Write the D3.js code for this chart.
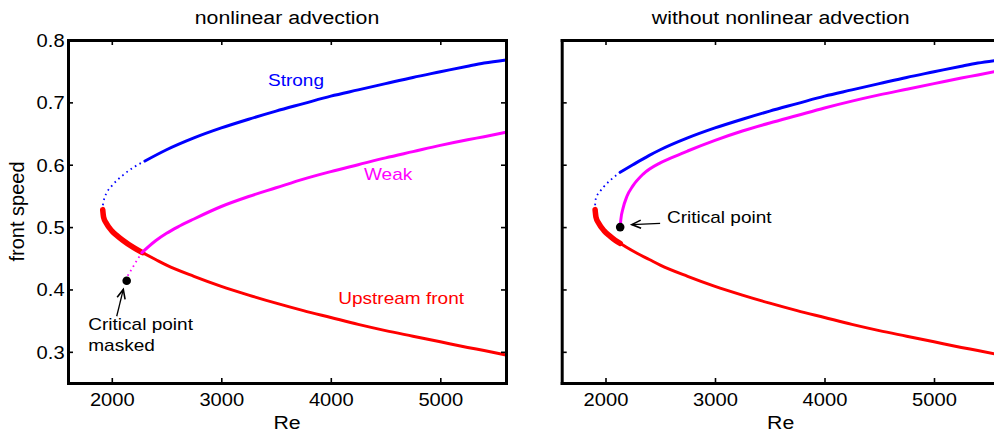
<!DOCTYPE html>
<html>
<head>
<meta charset="utf-8">
<script src="https://cdn.jsdelivr.net/npm/d3@7/dist/d3.min.js"></script>
<style>
  body { margin: 0; background: #fff; }
  text { font-family: "Liberation Sans", Arial, Helvetica, sans-serif; }
</style>
</head>
<body>
<svg id="chart" width="994" height="432"></svg>
<script>
// axis ticks
const xTicks = [2000, 3000, 4000, 5000];
const yTicks = [0.3, 0.4, 0.5, 0.6, 0.7, 0.8];
const titles = ['nonlinear advection', 'without nonlinear advection'];

// [Re, front speed]
// left panel: nonlinear advection
const leftStrongDotted = [[1918, 0.535], [1930, 0.545], [1950, 0.554], [2000, 0.566], [2100, 0.583],
  [2200, 0.596], [2303, 0.606]];
const leftStrong = [[2303, 0.606], [2500, 0.624], [2750, 0.643], [3000, 0.659], [3250, 0.673], [3500, 0.686],
  [3750, 0.698], [4000, 0.710], [4250, 0.720], [4500, 0.730], [4750, 0.740], [5000, 0.749], [5250, 0.758],
  [5400, 0.763], [5600, 0.768]];
const leftWeakDotted = [[2145, 0.422], [2180, 0.432], [2220, 0.444], [2275, 0.459]];
const leftWeak = [[2275, 0.459], [2400, 0.478], [2500, 0.490], [2600, 0.500], [2750, 0.513], [3000, 0.533],
  [3250, 0.549], [3500, 0.563], [3750, 0.577], [4000, 0.589], [4250, 0.600], [4500, 0.611], [4750, 0.621],
  [5000, 0.631], [5250, 0.640], [5400, 0.645], [5600, 0.652]];
const leftUpstreamThick = [[1917, 0.528], [1925, 0.516], [1950, 0.506], [2000, 0.494], [2050, 0.486],
  [2100, 0.479], [2200, 0.467], [2280, 0.459]];
const leftUpstream = [[2280, 0.459], [2400, 0.448], [2500, 0.439], [2750, 0.421], [3000, 0.405], [3250, 0.391],
  [3500, 0.378], [3750, 0.366], [4000, 0.355], [4250, 0.344], [4500, 0.334], [4750, 0.325], [5000, 0.316],
  [5250, 0.307], [5400, 0.302], [5600, 0.295]];
const leftCritical = [2136, 0.414];

// right panel: without nonlinear advection
const rightStrongDotted = [[1905, 0.535], [1912, 0.546], [1945, 0.556], [1981, 0.564], [2050, 0.576], [2134, 0.588]];
const rightStrong = [[2134, 0.588], [2250, 0.600], [2400, 0.615], [2500, 0.624], [2750, 0.643], [3000, 0.659],
  [3250, 0.673], [3500, 0.686], [3750, 0.698], [4000, 0.710], [4250, 0.720], [4500, 0.730], [4750, 0.740],
  [5000, 0.749], [5250, 0.758], [5400, 0.763], [5600, 0.768]];
const rightWeak = [[2134, 0.500], [2140, 0.512], [2160, 0.530], [2195, 0.549], [2250, 0.566], [2344, 0.585],
  [2500, 0.603], [2600, 0.611], [2750, 0.622], [3000, 0.639], [3250, 0.654], [3500, 0.667], [3750, 0.679],
  [4000, 0.691], [4250, 0.702], [4500, 0.712], [4750, 0.721], [5000, 0.730], [5250, 0.739], [5400, 0.744],
  [5600, 0.751]];
const rightUpstreamThick = [[1905, 0.528], [1913, 0.516], [1938, 0.506], [1988, 0.494], [2038, 0.486],
  [2088, 0.479], [2134, 0.474]];
const rightUpstream = [[2134, 0.474], [2188, 0.468], [2288, 0.458], [2400, 0.448], [2500, 0.439], [2750, 0.421],
  [3000, 0.405], [3250, 0.391], [3500, 0.378], [3750, 0.366], [4000, 0.355], [4250, 0.344], [4500, 0.334],
  [4750, 0.325], [5000, 0.316], [5250, 0.307], [5400, 0.302], [5600, 0.295]];
const rightCritical = [2134, 0.500];

const BLUE = '#0000ff';
const MAGENTA = '#ff00ff';
const RED = '#ff0000';
const SX = 1.12; // glyphs in the picture come out a bit wide

const svg = d3.select('#chart');

function addText(g, px, py, str, size, opts) {
  opts = opts || {};
  return g.append('text')
    .attr('transform', `translate(${px},${py}) scale(${SX},1)`)
    .attr('text-anchor', opts.anchor || 'start')
    .attr('fill', opts.fill || '#000')
    .style('font-size', size + 'px')
    .text(str);
}

function addArrow(g, x0, y0, x1, y1) {
  // tail (x0,y0) -> head (x1,y1)
  const a = Math.atan2(y1 - y0, x1 - x0);
  const len = 10;
  const spread = 0.42;
  g.append('line').attr('x1', x0).attr('y1', y0).attr('x2', x1).attr('y2', y1)
    .attr('stroke', '#000').attr('stroke-width', 1.3);
  g.append('path')
    .attr('d', `M${x1 - len * Math.cos(a - spread)},${y1 - len * Math.sin(a - spread)}` +
      `L${x1},${y1}L${x1 - len * Math.cos(a + spread)},${y1 - len * Math.sin(a + spread)}`)
    .attr('fill', 'none').attr('stroke', '#000').attr('stroke-width', 1.6);
}

function panel(left, idx, series) {
  const x = d3.scaleLinear().domain([1600, 5600]).range([left, left + 438]);
  const y = d3.scaleLinear().domain([0.25, 0.8]).range([383, 40]);
  const g = svg.append('g');
  const line = d3.line().x((d) => x(d[0])).y((d) => y(d[1])).curve(d3.curveMonotoneX);

  // curves
  series.forEach((s) => {
    const p = g.append('path').datum(s.data)
      .attr('d', line)
      .attr('fill', 'none')
      .attr('stroke', s.color)
      .attr('stroke-width', s.width || 3)
      .attr('stroke-linecap', s.dotted ? 'butt' : 'round')
      .attr('stroke-linejoin', 'round');
    if (s.dotted) {
      p.attr('stroke-dasharray', '1.6,3.6');
    }
  });

  // axes, MATLAB style: box with inward ticks
  const styleAxis = (sel) => {
    sel.select('.domain').attr('stroke-width', 3).attr('stroke-linecap', 'square');
    sel.selectAll('.tick line').attr('stroke-width', 1.6);
    sel.selectAll('.tick text')
      .style('font-size', '18px')
      .style('font-family', '"Liberation Sans", Arial, sans-serif')
      .attr('transform', `scale(${SX},1)`);
  };
  g.append('g').attr('transform', `translate(0,${y(0.25)})`)
    .call(d3.axisBottom(x).tickValues(xTicks).tickSizeInner(-5).tickSizeOuter(0).tickPadding(10)
      .tickFormat(d3.format('d')))
    .call(styleAxis);
  g.append('g').attr('transform', `translate(0,${y(0.8)})`)
    .call(d3.axisTop(x).tickValues(xTicks).tickSizeInner(-5).tickSizeOuter(0).tickFormat(''))
    .call(styleAxis);
  g.append('g').attr('transform', `translate(${x(1600)},0)`)
    .call(d3.axisLeft(y).tickValues(yTicks).tickSizeInner(-5).tickSizeOuter(0).tickPadding(3)
      .tickFormat(idx === 0 ? d3.format('.1f') : ''))
    .call(styleAxis)
    .selectAll('.tick text').attr('dy', '0.36em');
  g.append('g').attr('transform', `translate(${x(5600)},0)`)
    .call(d3.axisRight(y).tickValues(yTicks).tickSizeInner(-5).tickSizeOuter(0).tickFormat(''))
    .call(styleAxis);

  // titles and labels
  const cx = (x(1600) + x(5600)) / 2;
  addText(g, cx, 23.5, titles[idx], 19, { anchor: 'middle' });
  addText(g, cx, 429, 'Re', 19, { anchor: 'middle' });
  return { g, x, y };
}

const L = panel(68, 0, [
  { data: leftStrongDotted, color: BLUE, width: 1.8, dotted: true },
  { data: leftWeakDotted, color: MAGENTA, width: 1.8, dotted: true },
  { data: leftUpstream, color: RED },
  { data: leftUpstreamThick, color: RED, width: 5.5 },
  { data: leftStrong, color: BLUE },
  { data: leftWeak, color: MAGENTA },
]);
const R = panel(561.7, 1, [
  { data: rightStrongDotted, color: BLUE, width: 1.8, dotted: true },
  { data: rightUpstream, color: RED },
  { data: rightUpstreamThick, color: RED, width: 5.5 },
  { data: rightStrong, color: BLUE },
  { data: rightWeak, color: MAGENTA },
]);

// y label
svg.append('text')
  .attr('transform', `translate(24,${(L.y(0.8) + L.y(0.25)) / 2}) rotate(-90)`)
  .attr('text-anchor', 'middle')
  .style('font-size', '20px')
  .text('front speed');

// left annotations
addText(L.g, L.x(3426), L.y(0.7263), 'Strong', 17, { fill: BLUE });
addText(L.g, L.x(4303), L.y(0.5748), 'Weak', 17, { fill: MAGENTA });
addText(L.g, L.x(4068), L.y(0.3769), 'Upstream front', 17, { fill: RED });
addText(L.g, L.x(1785), L.y(0.3344), 'Critical point', 17);
addText(L.g, L.x(1785), L.y(0.3008), 'masked', 17);
L.g.append('circle').attr('cx', L.x(leftCritical[0])).attr('cy', L.y(leftCritical[1])).attr('r', 4.3);
addArrow(L.g, L.x(2045), L.y(0.357), L.x(2105), L.y(0.400));

// right annotations
addText(R.g, R.x(2561), R.y(0.5059), 'Critical point', 17);
R.g.append('circle').attr('cx', R.x(rightCritical[0])).attr('cy', R.y(rightCritical[1])).attr('r', 4.3);
addArrow(R.g, R.x(2499), R.y(0.506), R.x(2240), R.y(0.504));
</script>
</body>
</html>
